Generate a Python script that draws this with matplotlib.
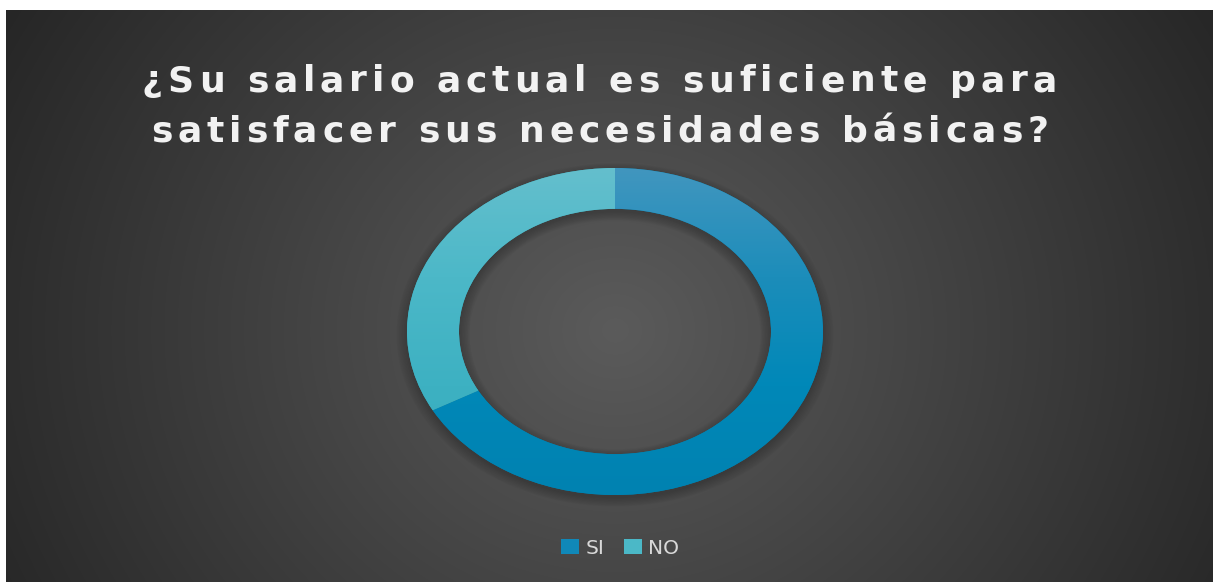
import numpy as np
import matplotlib.pyplot as plt
from matplotlib.patches import Wedge, Patch
from matplotlib.colors import LinearSegmentedColormap
from matplotlib.font_manager import FontProperties, findfont
from matplotlib.ft2font import FT2Font

# data
title_lines = ["¿Su salario actual es suficiente para",
               "satisfacer sus necesidades básicas?"]
labels = ["SI", "NO"]
values = [67, 33]

# ring colours (top -> bottom of the vertical gradient)
grad_si = ["#4196BF", "#1C8DBA", "#0088B8", "#0082B1"]
grad_no = ["#64BFCD", "#4CB8C8", "#3DB1C2", "#36ABBC"]
legend_colors = ["#1088B8", "#4BB8C7"]

W, H = 1213, 582
fig = plt.figure(figsize=(W / 100, H / 100), dpi=100, facecolor="white")

# --- dark radial background -------------------------------------------------
bg = fig.add_axes([6 / W, 0, (W - 6) / W, (H - 10) / H])
bg.axis("off")
yy, xx = np.mgrid[10:H, 6:W]
d = np.clip(np.sqrt(((xx - 615) / 703.0) ** 2 + ((yy - 330) / 640.0) ** 2), 0, 1)
c0, c1 = 91 / 255, 38 / 255
shade = c0 + (c1 - c0) * d
bg.imshow(np.dstack([shade] * 3), extent=(0, 1, 0, 1), aspect="auto")
bg.set_xlim(0, 1)
bg.set_ylim(0, 1)

# --- doughnut ------------------------------------------------------------------
pad = 1.12
cx, cy, rx, ry = 615, 331.5, 208, 163.5
ax = fig.add_axes([(cx - rx * pad) / W, (H - cy - ry * pad) / H,
                   2 * rx * pad / W, 2 * ry * pad / H])
ax.patch.set_alpha(0)

# soft shadow under the ring
for e in np.linspace(0.0, 0.05, 8):
    ax.add_patch(Wedge((0, -0.02), 1 + e, 0, 360, width=0.25 + 2 * e,
                       facecolor="black", edgecolor="none", alpha=0.028, zorder=1))

wedges, _ = ax.pie(values, radius=1, startangle=90, counterclock=False,
                   colors=[grad_si[-1], grad_no[-1]],
                   wedgeprops=dict(width=0.25, linewidth=0))
for w in wedges:
    w.set_zorder(2)

grad = np.linspace(0, 1, 256)[:, None]
for w, stops in zip(wedges, [grad_si, grad_no]):
    cmap = LinearSegmentedColormap.from_list("g", stops[::-1])
    im = ax.imshow(grad, cmap=cmap, extent=(-1, 1, -1, 1), origin="lower",
                   aspect="auto", zorder=3)
    im.set_clip_path(w)

ax.set_aspect("auto")
ax.set_xlim(-pad, pad)
ax.set_ylim(-pad, pad)
ax.axis("off")

# --- title with wide letter spacing (one text per glyph) ----------------------
tsize = 26
fp = FontProperties(family="DejaVu Sans", weight="bold", size=tsize)
font = FT2Font(findfont(fp))
font.set_size(tsize, 100)


def advance(ch):
    return font.load_char(ord(ch)).linearHoriAdvance / 65536.0


def spaced_line(text, left, right, baseline):
    adv = [advance(c) for c in text]
    gap = (right - left - sum(adv)) / (len(text) - 1)
    x = left
    for c, a in zip(text, adv):
        fig.text((x + a / 2) / W, (H - baseline) / H, c, ha="center",
                 va="baseline", fontproperties=fp, color="#F2F2F2")
        x += a + gap


spaced_line(title_lines[0], 142, 1057, 91)
spaced_line(title_lines[1], 151, 1048, 142)

# --- legend ----------------------------------------------------------------------
handles = [Patch(facecolor=c, edgecolor="none") for c in legend_colors]
fig.legend(handles, labels, loc="center", bbox_to_anchor=(620 / W, (H - 548) / H),
           ncol=2, frameon=False, prop=dict(family="DejaVu Sans", size=14.5),
           labelcolor="#D9D9D9", handlelength=0.9, handleheight=0.7,
           handletextpad=0.3, columnspacing=0.95)

fig.savefig("out.png", dpi=100, facecolor="white")
